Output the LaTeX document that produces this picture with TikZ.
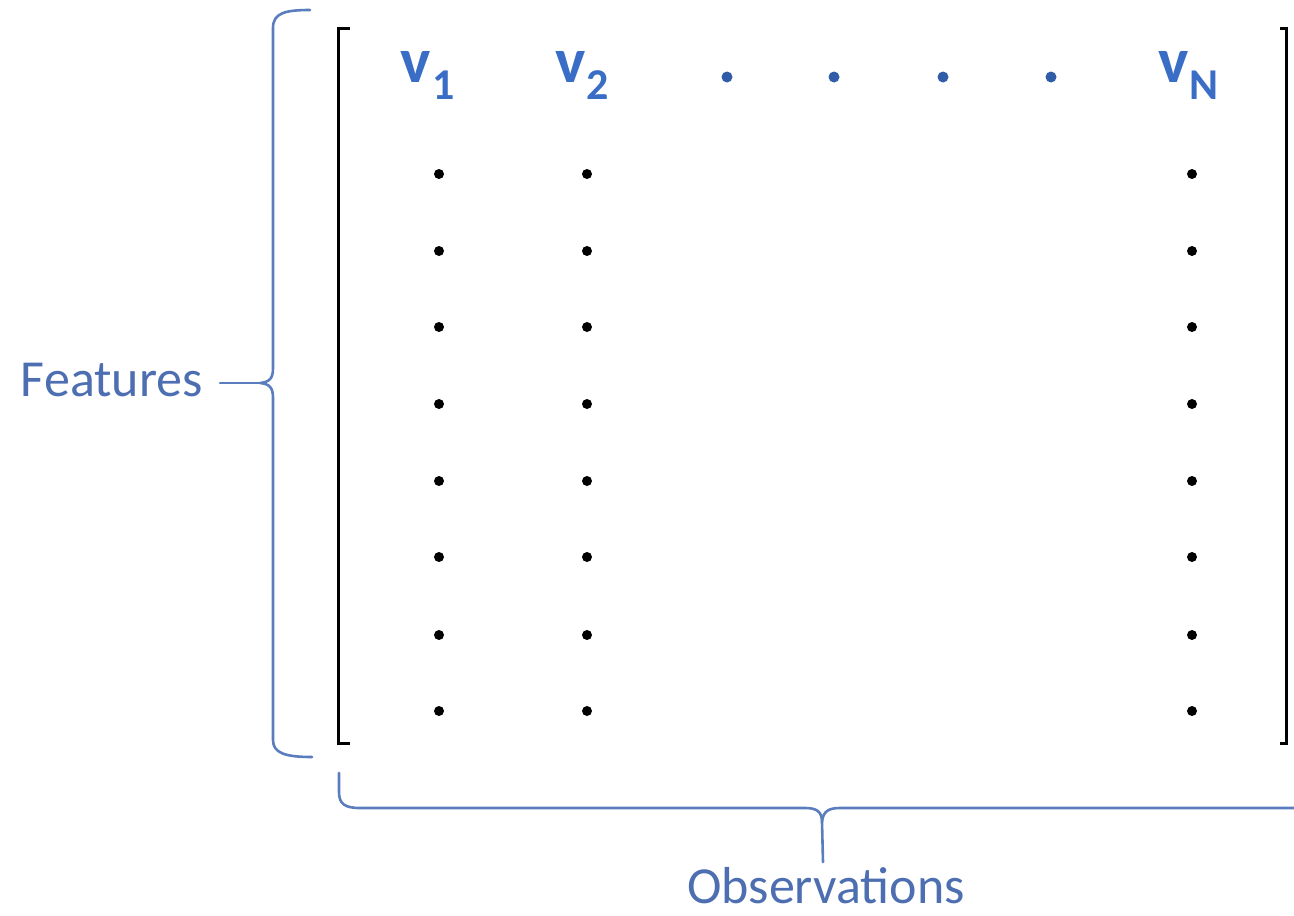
\documentclass[tikz,border=0pt]{standalone}
\usepackage{fontspec}
\setmainfont{Carlito}
\definecolor{vblue}{HTML}{3A6DC6}
\definecolor{lblue}{HTML}{4D6FB2}
\definecolor{bblue}{HTML}{5A7DBE}
\begin{document}
\begin{tikzpicture}[x=1pt,y=-1pt,
  bracestyle/.style={draw=bblue,line width=2.6pt,line cap=round,line join=round},
  brackstyle/.style={draw=black,line width=3pt},
  vlab/.style={text=vblue,font=\fontsize{64}{64}\selectfont\bfseries,inner sep=0pt,anchor=base west},
  sublab/.style={text=vblue,font=\fontsize{44}{44}\selectfont\bfseries,inner sep=0pt,anchor=base west},
  lbl/.style={text=lblue,font=\fontsize{52}{52}\selectfont,inner sep=0pt}]
\useasboundingbox (0,0) rectangle (1294,916);
% left brace
\coordinate (lcusp) at (260,383);
\draw[bracestyle] (310,10) .. controls (285,10) and (273,13) .. (273,28) -- (273,368)
  .. controls (273,378) and (270,382) .. (lcusp)
  .. controls (270,384) and (273,388) .. (273,398) -- (273,740)
  .. controls (273,753) and (285,757) .. (312,757);
\node[lbl,anchor=east] (features) at (203,380) {Features};
\draw[bracestyle] (220,383) -- (lcusp);
% bottom brace
\coordinate (bcusp) at (823,862);
\draw[bracestyle] (339,773) -- (339,792) .. controls (339,804) and (345,808) .. (360,808)
  -- (805,808) .. controls (816,808) and (822,811) .. (822,822) -- (bcusp);
\draw[bracestyle] (822,822) .. controls (823,811) and (829,808) .. (840,808) -- (1300,808);
\node[lbl,anchor=base] (obs) at (826,903) {Observations};
% brackets
\draw[brackstyle] (350,28) -- (338,28) -- (338,743) -- (350,743);
\draw[brackstyle] (1280,28) -- (1286,28) -- (1286,743) -- (1280,743);
% header labels
\node[vlab] (v1) at (400,82) {v};
\node[sublab] (s1) at (432,99) {1};
\node[vlab] (v2) at (555,82) {v};
\node[sublab] (s2) at (586,99) {2};
\node[vlab] (vN) at (1158,82) {v};
\node[sublab] (sN) at (1189,99) {N};
\foreach \x in {727,834,943,1051}
  \fill[vblue!85!black] (\x,77) circle (5.5);
% dots
\foreach \x in {439,587,1192}
  \foreach \y in {174,251,327,404,481,557,635,711}
    \fill[black] (\x,\y) circle (5);
\end{tikzpicture}
\end{document}
